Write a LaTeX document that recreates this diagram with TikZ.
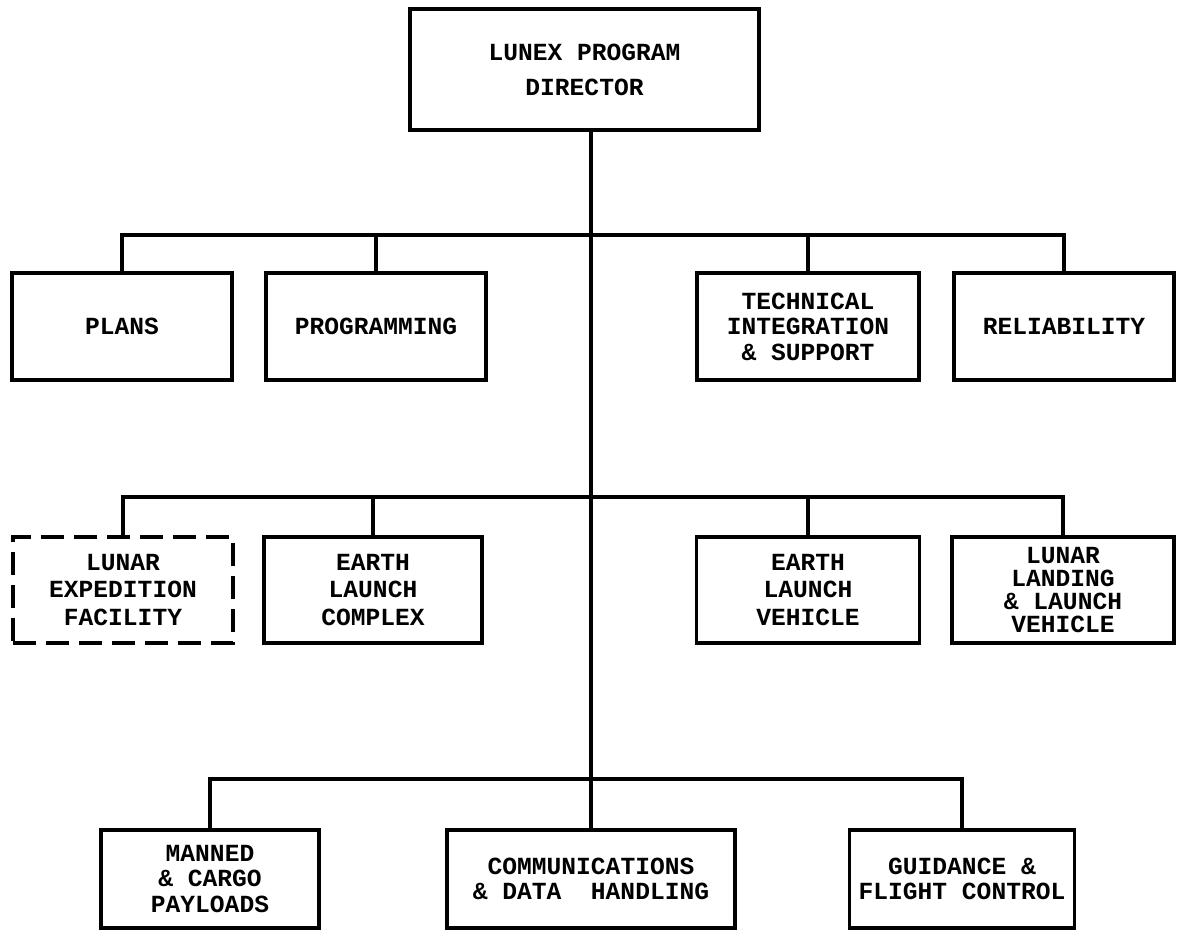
\documentclass[tikz,border=0pt]{standalone}
\usepackage{fontspec}
\newfontfamily\lettering{Liberation Mono}
\usetikzlibrary{calc}
\def\boxw{4.4cm}
\def\boxh{2.14cm}
\tikzset{
  unit/.style={
    draw=black,line width=2.2pt,
    inner sep=0pt,align=center,
    minimum width=\boxw,minimum height=\boxh,
    font=\lettering\bfseries\fontsize{14}{14.5}\selectfont
},
  midunit/.style={unit,minimum height=2.12cm,
    font=\lettering\bfseries\fontsize{14}{15.5}\selectfont},
  lowunit/.style={unit,minimum height=1.96cm},
  planned/.style={midunit,dash pattern=on 0.46cm off 0.2cm},
  link/.style={line width=1.8pt}
}

\begin{document}
\begin{tikzpicture}[x=0.02cm,y=-0.02cm,line join=miter]
\useasboundingbox (0,0) rectangle (1178,932);
\node[unit,minimum width=6.98cm,minimum height=2.42cm,
      font=\lettering\bfseries\fontsize{14}{20}\selectfont]
      (dir) at (584.5,69.5) {LUNEX PROGRAM\\DIRECTOR};
% staff offices
\node[unit] (plans) at (122,326.5) {PLANS};
\node[unit] (prog) at (376,326.5) {PROGRAMMING};
\node[unit,minimum width=4.44cm] (tis) at (808,326.5) {TECHNICAL\\INTEGRATION\\\& SUPPORT};
\node[unit] (rel) at (1064,326.5) {RELIABILITY};
% facilities and vehicles
\node[planned] (lef) at (123,590) {LUNAR\\EXPEDITION\\FACILITY};
\node[midunit,minimum width=4.36cm] (elc) at (373,590) {EARTH\\LAUNCH\\COMPLEX};
\node[midunit,minimum width=4.46cm] (elv) at (808,590) {EARTH\\LAUNCH\\VEHICLE};
\node[midunit,minimum width=4.44cm,
      font=\lettering\bfseries\fontsize{14}{13}\selectfont]
      (llv) at (1063,590) {LUNAR\\LANDING\\\& LAUNCH\\VEHICLE};
% systems
\node[lowunit,minimum width=4.36cm] (mcp) at (210,879) {MANNED\\\& CARGO\\PAYLOADS};
\node[lowunit,minimum width=5.76cm] (cdh) at (591,879) {COMMUNICATIONS\\\& DATA\ \ HANDLING};
\node[lowunit,minimum width=4.5cm] (gfc) at (962,879) {GUIDANCE \&\\FLIGHT CONTROL};

\coordinate (bus1) at (591,235);
\coordinate (bus2) at (591,497);
\coordinate (bus3) at (591,779);
\draw[link] (dir.south -| cdh.north) -- (cdh.north);
\draw[link] (plans.north) |- (bus1) -| (rel.north);
\draw[link] (lef.north) |- (bus2) -| (llv.north);
\draw[link] (mcp.north) |- (bus3) -| (gfc.north);
\foreach \n/\b in {prog/bus1,tis/bus1,elc/bus2,elv/bus2}{
    \draw[link] (\n.north) -- (\n.north |- \b);
}
\end{tikzpicture}
\end{document}
